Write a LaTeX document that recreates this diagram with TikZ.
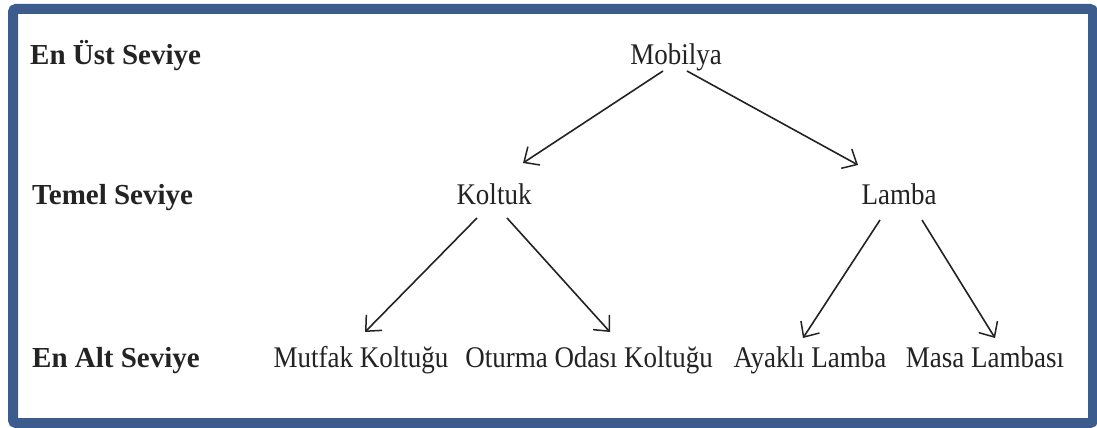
\documentclass[tikz,border=0pt]{standalone}
\usepackage{fontspec}
\setmainfont{Liberation Serif}[FakeStretch=0.9]
\newfontfamily\captionfont{Liberation Serif}
\usetikzlibrary{arrows.meta,calc}
\definecolor{frameblue}{RGB}{59,92,140}
\definecolor{ink}{RGB}{35,35,35}
\begin{document}
\begin{tikzpicture}[x=1pt,y=-1pt,
  lvl/.style={font=\captionfont\fontsize{29}{31}\selectfont\bfseries, anchor=base west, inner sep=0pt, text=ink},
  item/.style={font=\fontsize{30}{32}\selectfont, anchor=base, inner sep=0pt, text=ink},
  arr/.style={draw=ink, line width=1.6pt, -{Straight Barb[length=12pt,width=22pt,line width=1.5pt]}}]
  \useasboundingbox (0,0) rectangle (1097,428);
  \fill[white] (0,0) rectangle (1097,428);
  % outer frame
  \draw[frameblue, line width=10pt, rounded corners=3pt] (13,9) rectangle (1093,423);

  % level captions
  \node[lvl] (l1) at (30,64) {En Üst Seviye};
  \node[lvl] (l2) at (32,204) {Temel Seviye};
  \node[lvl] (l3) at (32,367) {En Alt Seviye};

  % hierarchy
  \node[item] (mob) at (676,64) {Mobilya};
  \node[item] (kol) at (494,204) {Koltuk};
  \node[item] (lam) at (899,204) {Lamba};
  \node[item] (mut) at (361,367) {Mutfak Koltuğu};
  \node[item] (otu) at (589,367) {Oturma Odası Koltuğu};
  \node[item] (aya) at (810,367) {Ayaklı Lamba};
  \node[item] (mas) at (985,367) {Masa Lambası};

  % arrows
  \draw[arr] ($(mob.base)+(-13,7)$) -- ($(kol.base)+(29,-41)$);
  \draw[arr] ($(mob.base)+(11,7)$) -- ($(lam.base)+(-41,-39)$);
  \draw[arr] ($(kol.base)+(-17,14)$) -- ($(mut.base)+(4,-35)$);
  \draw[arr] ($(kol.base)+(13,14)$) -- ($(otu.base)+(21,-35)$);
  \draw[arr] ($(lam.base)+(-19,16)$) -- ($(aya.base)+(-7,-29)$);
  \draw[arr] ($(lam.base)+(23,16)$) -- ($(mas.base)+(10,-29)$);
\end{tikzpicture}
\end{document}
